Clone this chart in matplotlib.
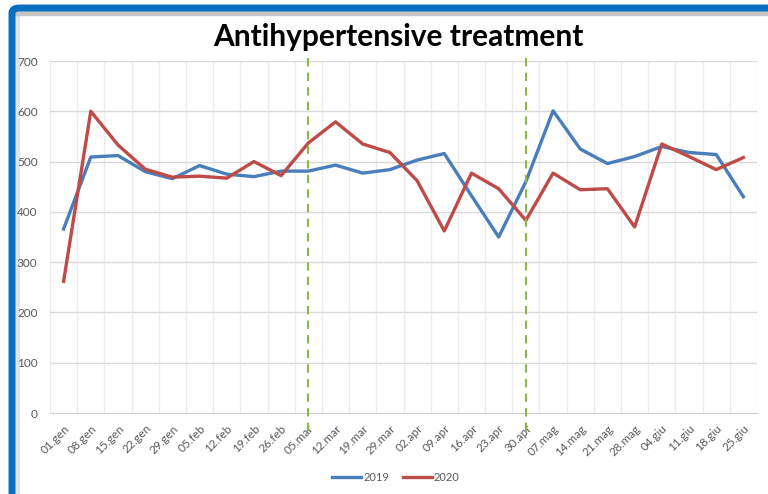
import matplotlib.pyplot as plt
from matplotlib.patches import FancyBboxPatch, Rectangle
import matplotlib.transforms as mtransforms

weeks = ["01.gen", "08.gen", "15.gen", "22.gen", "29.gen", "05.feb", "12.feb",
         "19.feb", "26.feb", "05.mar", "12.mar", "19.mar", "29.mar", "02.apr",
         "09.apr", "16.apr", "23.apr", "30.apr", "07.mag", "14.mag", "21.mag",
         "28.mag", "04.giu", "11.giu", "18.giu", "25.giu"]

y2019 = [366, 509, 512, 480, 466, 492, 475, 470, 481, 481, 493, 477, 484,
         503, 516, 432, 350, 460, 601, 525, 496, 510, 530, 518, 514, 430]
y2020 = [262, 600, 533, 485, 469, 471, 467, 500, 472, 537, 579, 535, 518,
         462, 362, 477, 446, 383, 477, 444, 446, 370, 535, 510, 484, 508]

marker_weeks = ["05.mar", "30.apr"]

plt.rcParams['font.family'] = ['Lato', 'DejaVu Sans']

fig = plt.figure(figsize=(7.68, 4.94), dpi=100)

# blue slide frame with a bit of shadow
fig.patches.append(Rectangle((15 / 768, 0), 4 / 768, 1 - 11 / 494,
                             transform=fig.transFigure, color="#e4e4e4", zorder=-2))
fig.patches.append(Rectangle((15 / 768, 1 - 15 / 494), 1, 4 / 494,
                             transform=fig.transFigure, color="#c4c4c4", zorder=-2))
fig.patches.append(FancyBboxPatch((12 / 768, -0.1), 2, 1.1 - 8 / 494,
                                  boxstyle="round,pad=0,rounding_size=0.01",
                                  transform=fig.transFigure, fill=False,
                                  edgecolor="#0a6fc2", linewidth=5, zorder=-1))

ax = fig.add_axes([50 / 768, 81 / 494, 707 / 768, 352 / 494])
ax.patch.set_alpha(0)

x = list(range(len(weeks)))
ax.plot(x, y2019, color="#4a7ebb", lw=2.4, label="2019", zorder=3)
ax.plot(x, y2020, color="#be4b48", lw=2.4, label="2020", zorder=3)

trans = mtransforms.blended_transform_factory(ax.transData, ax.transAxes)
for w in marker_weeks:
    i = weeks.index(w)
    ax.plot([i, i], [-0.05, 1.02], transform=trans, color="#8cb848",
            lw=1.5, ls=(0, (4, 3)), clip_on=False, zorder=4)

ax.set_xlim(-0.5, len(weeks) - 0.5)
ax.set_ylim(0, 700)
ax.set_yticks(range(0, 701, 100))
ax.set_xticks(x)
ax.set_xticklabels(weeks, rotation=45, ha="right", rotation_mode="anchor")
ax.set_xticks([i + 0.5 for i in range(-1, len(weeks))], minor=True)
ax.tick_params(axis="both", which="both", length=0, colors="#595959", labelsize=8.5)
ax.tick_params(axis="x", pad=7)
ax.tick_params(axis="y", pad=9)

ax.grid(axis="y", which="major", color="#d9d9d9", lw=1)
ax.grid(axis="x", which="minor", color="#ececec", lw=1)
ax.set_axisbelow(True)
for s in ["top", "right", "left"]:
    ax.spines[s].set_visible(False)
ax.spines["bottom"].set_color("#d0d0d0")

fig.text(398 / 768, 1 - 37 / 494, "Antihypertensive treatment", ha="center",
         va="center", fontsize=21.5, fontweight="bold", color="black")

fig.legend(loc="center", bbox_to_anchor=(396 / 768, 1 - 477 / 494), ncol=2,
           frameon=False, fontsize=8, labelcolor="#595959", handlelength=2.6,
           columnspacing=1.2, handletextpad=0.2)

fig.savefig("out.png", dpi=100)
